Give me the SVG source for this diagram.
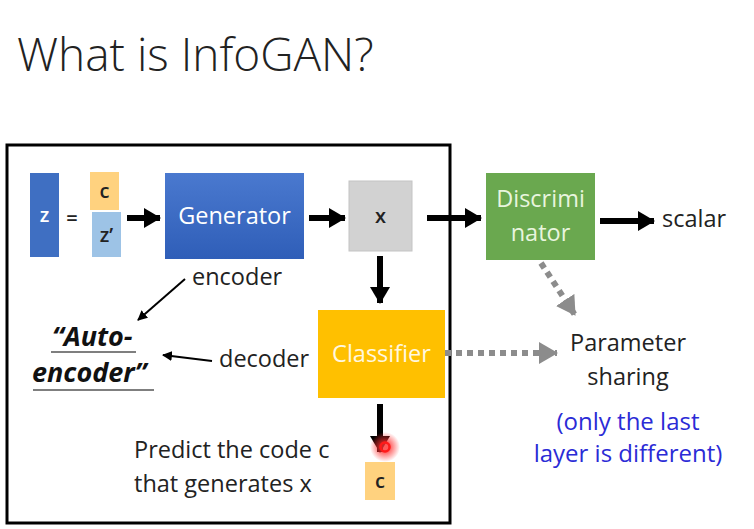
<svg xmlns="http://www.w3.org/2000/svg" width="754" height="529" viewBox="0 0 754 529">
<style>
text{font-family:"Open Sans","Noto Sans","Liberation Sans",sans-serif;}
.t{font-size:23.5px;fill:#222;}
.w{font-size:23.5px;fill:#fff;}
.s{font-size:20px;font-weight:600;}
.blue{font-size:24px;fill:#2b2bd6;}
.ae{font-size:27px;font-weight:bold;font-style:italic;fill:#111;}
.thick{stroke:#000;stroke-width:6;fill:none;}
.thin{stroke:#000;stroke-width:2;fill:none;}
.dot{stroke:#8c8c8c;stroke-width:6;stroke-dasharray:6 5;fill:none;}
</style>
<defs>
<marker id="big" markerUnits="userSpaceOnUse" markerWidth="18" markerHeight="20" refX="16" refY="10" orient="auto"><path d="M0,0 L17,10 L0,20 Z" fill="#000"/></marker>
<marker id="sm" markerUnits="userSpaceOnUse" markerWidth="10" markerHeight="10" refX="9" refY="5" orient="auto"><path d="M0,0 L10,5 L0,10 Z" fill="#000"/></marker>
<marker id="gray" markerUnits="userSpaceOnUse" markerWidth="20" markerHeight="22" refX="18" refY="11" orient="auto"><path d="M0,0 L19,11 L0,22 Z" fill="#8c8c8c"/></marker>
<linearGradient id="gen" x1="0" y1="0" x2="0" y2="1"><stop offset="0" stop-color="#4a79cf"/><stop offset="1" stop-color="#2f5eb8"/></linearGradient>
<radialGradient id="glow"><stop offset="0.3" stop-color="#ff3030" stop-opacity="0.8"/><stop offset="1" stop-color="#ff3030" stop-opacity="0"/></radialGradient>
</defs>
<rect width="754" height="529" fill="#fff"/>
<text x="17" y="71" style="font-size:46px;font-weight:300;fill:#222">What is InfoGAN?</text>
<rect x="7" y="145" width="443" height="378" fill="none" stroke="#000" stroke-width="3"/>
<g id="z"><rect x="30" y="173" width="29" height="84" fill="#3f6fc2"/><text x="44.5" y="222" class="w s" text-anchor="middle">z</text></g>
<g id="eq"><text x="72" y="225" class="t s" text-anchor="middle">=</text></g>
<g id="c"><rect x="90" y="172" width="29" height="38" fill="#ffd27f"/><text x="104.5" y="198" class="t s" text-anchor="middle">c</text></g>
<g id="zp"><rect x="92" y="212" width="29" height="45" fill="#9dc3e6"/><text x="106.5" y="242" class="t s" text-anchor="middle">z’</text></g>
<g id="generator"><rect x="165" y="173" width="139" height="86" fill="url(#gen)"/><text x="234.5" y="224" class="w" text-anchor="middle">Generator</text></g>
<g id="x"><rect x="349" y="181" width="63" height="70" fill="#d2d2d2" stroke="#c4c4c4"/><text x="380.5" y="223" class="t s" text-anchor="middle">x</text></g>
<g id="discriminator"><rect x="486" y="173" width="109" height="87" fill="#6aa84f"/><text x="540.5" y="207" class="w" text-anchor="middle" style="fill:#e8f5de">Discrimi</text><text x="540.5" y="241" class="w" text-anchor="middle" style="fill:#e8f5de">nator</text></g>
<g id="scalar"><text x="662" y="227" class="t">scalar</text></g>
<g id="classifier"><rect x="318" y="310" width="127" height="88" fill="#ffc000"/><text x="381.5" y="362" class="w" text-anchor="middle" style="fill:#fff8e0">Classifier</text></g>
<g id="c2"><rect x="365" y="462" width="30" height="38" fill="#ffd27f"/><text x="380" y="488" class="t s" text-anchor="middle">c</text></g>
<g id="encoder"><text x="192" y="285" class="t">encoder</text></g>
<g id="decoder"><text x="219" y="367" class="t">decoder</text></g>
<g id="autoencoder">
<text x="52" y="346" class="ae">“Auto-</text>
<line x1="51" y1="352" x2="136" y2="352" stroke="#555" stroke-width="1.5"/>
<text x="32" y="382" class="ae">encoder”</text>
<line x1="33" y1="390" x2="154" y2="390" stroke="#555" stroke-width="1.5"/>
</g>
<g id="predict"><text x="134" y="458" class="t">Predict the code c</text><text x="134" y="492" class="t">that generates x</text></g>
<g id="param"><text x="628" y="351" class="t" text-anchor="middle">Parameter</text><text x="628" y="385" class="t" text-anchor="middle">sharing</text>
<text x="628" y="430" class="blue" text-anchor="middle">(only the last</text><text x="628" y="462" class="blue" text-anchor="middle">layer is different)</text></g>
<g id="connectors">
<line x1="127" y1="218" x2="160" y2="218" class="thick" marker-end="url(#big)"/>
<line x1="309" y1="218" x2="345" y2="218" class="thick" marker-end="url(#big)"/>
<line x1="427" y1="218" x2="481" y2="218" class="thick" marker-end="url(#big)"/>
<line x1="600" y1="221" x2="654" y2="221" class="thick" marker-end="url(#big)"/>
<line x1="380" y1="256" x2="380" y2="303" class="thick" marker-end="url(#big)"/>
<line x1="380" y1="404" x2="380" y2="452" class="thick" marker-end="url(#big)"/>
<line x1="185" y1="279" x2="138" y2="320" class="thin" marker-end="url(#sm)"/>
<line x1="212" y1="361" x2="163" y2="355" class="thin" marker-end="url(#sm)"/>
<line x1="541" y1="263" x2="575" y2="315" class="dot" marker-end="url(#gray)"/>
<line x1="445" y1="353" x2="557" y2="353" class="dot" marker-end="url(#gray)"/>
</g>
<g id="pointer"><circle cx="385" cy="447" r="15" fill="url(#glow)"/><circle cx="385" cy="447" r="4.5" fill="none" stroke="#ff1a1a" stroke-width="2.5"/></g>
</svg>
